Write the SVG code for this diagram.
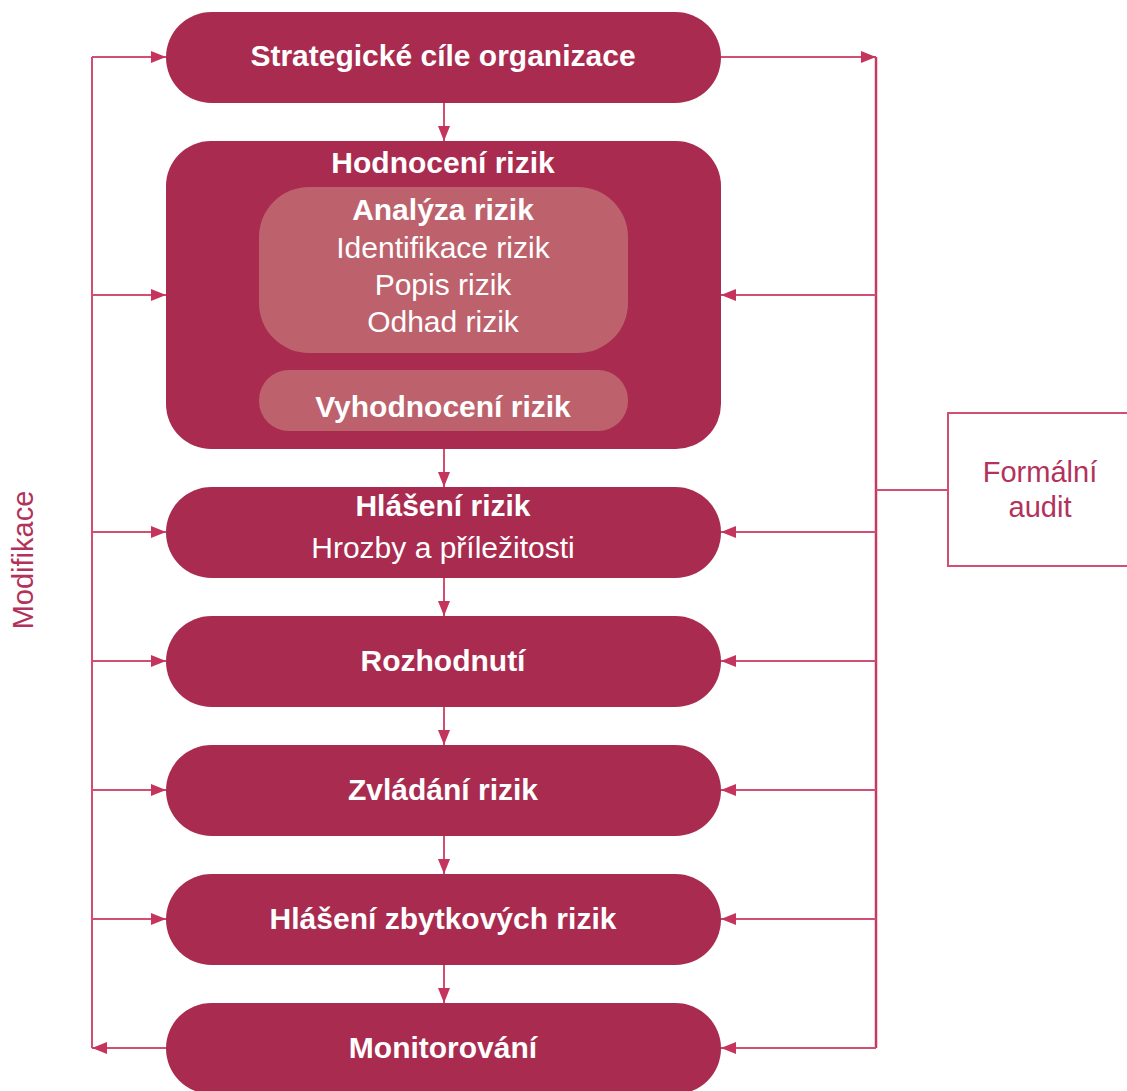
<svg xmlns="http://www.w3.org/2000/svg" width="1127" height="1091" viewBox="0 0 1127 1091">
<style>
.pill{fill:#a92b50}
.inner{fill:#bd626d}
.b{font-family:"Liberation Sans",Arial,sans-serif;font-weight:bold;font-size:30px;fill:#fff;text-anchor:middle}
.r{font-family:"Liberation Sans",Arial,sans-serif;font-size:30px;fill:#fff;text-anchor:middle}
.c{fill:none;stroke:#d04f72;stroke-width:2}
.lbl{font-family:"Liberation Sans",Arial,sans-serif;font-size:29px;fill:#b2325c;text-anchor:middle}
</style>
<defs>
<marker id="ah" viewBox="0 0 15 12" refX="15" refY="6" markerWidth="15" markerHeight="12" orient="auto" markerUnits="userSpaceOnUse">
<path d="M0,0 L15,6 L0,12 z" fill="#c4345c"/>
</marker>
</defs>
<rect width="1127" height="1091" fill="#fff"/>
<g id="connectors">
<path class="c" d="M444,103 V141" marker-end="url(#ah)"/>
<path class="c" d="M444,449 V487" marker-end="url(#ah)"/>
<path class="c" d="M444,578 V616" marker-end="url(#ah)"/>
<path class="c" d="M444,707 V745" marker-end="url(#ah)"/>
<path class="c" d="M444,836 V874" marker-end="url(#ah)"/>
<path class="c" d="M444,965 V1003" marker-end="url(#ah)"/>
<path class="c" d="M92,1048 V57"/>
<path class="c" d="M92,57 H166" marker-end="url(#ah)"/>
<path class="c" d="M92,295 H166" marker-end="url(#ah)"/>
<path class="c" d="M92,532 H166" marker-end="url(#ah)"/>
<path class="c" d="M92,661 H166" marker-end="url(#ah)"/>
<path class="c" d="M92,790 H166" marker-end="url(#ah)"/>
<path class="c" d="M92,919 H166" marker-end="url(#ah)"/>
<path class="c" d="M166,1048 H92" marker-end="url(#ah)"/>
<path class="c" d="M721,57 H876" marker-end="url(#ah)"/>
<path class="c" d="M876,57 V1048" style="stroke-width:2.5;stroke:#c8385f"/>
<path class="c" d="M876,295 H721" marker-end="url(#ah)"/>
<path class="c" d="M876,532 H721" marker-end="url(#ah)"/>
<path class="c" d="M876,661 H721" marker-end="url(#ah)"/>
<path class="c" d="M876,790 H721" marker-end="url(#ah)"/>
<path class="c" d="M876,919 H721" marker-end="url(#ah)"/>
<path class="c" d="M876,1048 H721" marker-end="url(#ah)"/>
<path class="c" d="M876,490 H948"/>
</g>
<g id="strategicke">
<rect class="pill" x="166" y="12" width="555" height="91" rx="45.5"/>
<text class="b" x="443" y="66">Strategické cíle organizace</text>
</g>
<g id="hodnoceni">
<rect class="pill" x="166" y="141" width="555" height="308" rx="45"/>
<text class="b" x="443" y="173">Hodnocení rizik</text>
</g>
<g id="analyza">
<rect class="inner" x="259" y="187" width="369" height="166" rx="50"/>
<text class="b" x="443" y="220">Analýza rizik</text>
<text class="r" x="443" y="258">Identifikace rizik</text>
<text class="r" x="443" y="295">Popis rizik</text>
<text class="r" x="443" y="332">Odhad rizik</text>
</g>
<g id="vyhodnoceni">
<rect class="inner" x="259" y="370" width="369" height="61" rx="30"/>
<text class="b" x="443" y="417">Vyhodnocení rizik</text>
</g>
<g id="hlaseni">
<rect class="pill" x="166" y="487" width="555" height="91" rx="45.5"/>
<text class="b" x="443" y="516">Hlášení rizik</text>
<text class="r" x="443" y="558">Hrozby a příležitosti</text>
</g>
<g id="rozhodnuti">
<rect class="pill" x="166" y="616" width="555" height="91" rx="45.5"/>
<text class="b" x="443" y="671">Rozhodnutí</text>
</g>
<g id="zvladani">
<rect class="pill" x="166" y="745" width="555" height="91" rx="45.5"/>
<text class="b" x="443" y="800">Zvládání rizik</text>
</g>
<g id="zbytkova">
<rect class="pill" x="166" y="874" width="555" height="91" rx="45.5"/>
<text class="b" x="443" y="929">Hlášení zbytkových rizik</text>
</g>
<g id="monitorovani">
<rect class="pill" x="166" y="1003" width="555" height="91" rx="45.5"/>
<text class="b" x="443" y="1058">Monitorování</text>
</g>
<g id="audit">
<rect x="948" y="413" width="190" height="153" fill="#fff" stroke="#d04f72" stroke-width="2"/>
<text class="lbl" x="1040" y="482">Formální</text>
<text class="lbl" x="1040" y="517">audit</text>
</g>
<g id="modifikace">
<text class="lbl" transform="translate(33,560) rotate(-90)">Modifikace</text>
</g>
</svg>
